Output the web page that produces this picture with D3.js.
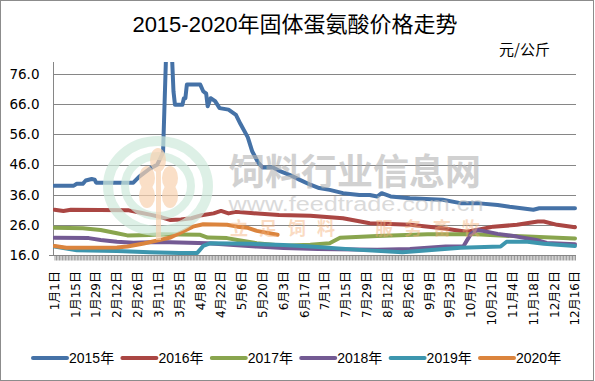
<!DOCTYPE html>
<html><head><meta charset="utf-8">
<script src="https://cdn.jsdelivr.net/npm/d3@7/dist/d3.min.js"></script>
<style>html,body{margin:0;padding:0;background:#fff;} svg{display:block;}</style>
</head><body><svg id="c" width="595" height="381"></svg>
<script>
const title = "2015-2020年固体蛋氨酸价格走势";
const unitLabel = "元/公斤";
const seriesNames = ["2015年","2016年","2017年","2018年","2019年","2020年"];
const seriesColors = ["#4572A7","#AA4643","#89A54E","#735A93","#3D96AE","#DB843D"];
const yTicks = [16,26,36,46,56,66,76];
const xFirst = "1-1", xLast = "12-16";
const xTickDates = ["1-1","1-15","1-29","2-12","2-26","3-11","3-25","4-8","4-22","5-6","5-20","6-3","6-17","7-1","7-15","7-29","8-12","8-26","9-9","9-23","10-7","10-21","11-4","11-18","12-2","12-16"];

const s2015 = [["1-1",39.0],["1-14",39.0],["1-16",39.6],["1-20",39.6],["1-22",40.7],["1-26",41.2],["1-28",41.0],["1-29",40.0],["2-23",40.0],["2-27",42.0],["3-5",44.6],["3-10",45.9],["3-14",50.0],["3-16",82],["3-20",82],["3-21",70.3],["3-22",65.8],["3-27",65.8],["3-28",68],["3-29",68],["3-30",72.5],["4-8",72.5],["4-10",70.3],["4-12",69.5],["4-13",65.3],["4-15",68],["4-18",67],["4-21",64.7],["4-27",64.2],["5-2",62.5],["5-5",59.5],["5-10",55],["5-13",50.3],["5-17",46.6],["5-20",45],["5-27",45],["6-1",43.7],["6-7",42.6],["6-14",40.9],["6-21",39.3],["6-27",38.2],["7-4",37.6],["7-13",36.5],["7-24",35.9],["7-31",35.9],["8-5",35.4],["8-8",36.5],["8-14",35.4],["8-27",34.8],["9-18",34.3],["9-30",33.2],["10-11",33.2],["10-25",32.6],["11-2",32.0],["11-18",31.0],["11-22",31.5],["12-16",31.5]];
const s2016 = [["1-1",31.0],["1-7",30.6],["1-12",31.0],["2-20",30.8],["2-28",30.0],["3-6",29.3],["3-13",28.5],["3-19",27.6],["3-26",27.8],["4-2",28.2],["4-9",29.2],["4-17",29.8],["4-22",30.6],["4-27",29.8],["5-2",30.3],["5-12",29.9],["5-31",29.3],["6-21",29.0],["7-13",28.2],["7-31",26.5],["8-27",26.0],["9-18",24.9],["10-4",23.7],["10-11",24.3],["10-22",25.4],["11-7",26.0],["11-21",27.1],["11-25",27.1],["12-4",26.0],["12-16",25.2]];
const s2017 = [["1-1",25.0],["1-20",24.9],["2-1",24.3],["2-12",23.2],["2-19",22.5],["3-5",22.6],["3-12",22.9],["4-8",22.7],["4-13",21.8],["4-26",21.6],["5-3",21.0],["5-16",19.9],["6-3",19.1],["6-21",19.4],["7-4",19.9],["7-11",21.7],["8-5",22.3],["9-8",22.9],["10-11",22.9],["10-20",22.6],["11-14",22.1],["12-16",21.5]];
const s2018 = [["1-1",21.7],["1-24",21.6],["2-1",21.0],["2-12",20.4],["2-23",20.1],["3-12",20.3],["4-13",19.9],["5-3",19.2],["5-16",18.8],["6-3",18.3],["6-26",18.0],["8-5",17.7],["8-27",18.0],["9-20",18.8],["10-2",18.9],["10-7",23.0],["10-11",24.3],["10-15",24.0],["10-25",23.0],["11-7",22.1],["11-20",21.0],["11-27",20.0],["12-16",19.6]];
const s2019 = [["1-1",18.8],["1-16",17.6],["2-12",17.3],["3-5",16.9],["3-25",16.7],["4-6",16.7],["4-10",19.0],["4-15",19.9],["5-12",19.7],["6-3",19.3],["6-21",18.8],["7-24",17.7],["8-22",16.9],["9-2",17.3],["9-30",18.4],["10-27",18.8],["10-31",20.4],["11-14",20.4],["11-25",19.7],["12-16",19.0]];
const s2020 = [["1-1",19.0],["1-9",18.4],["2-12",18.5],["2-19",18.8],["3-1",19.8],["3-12",21.0],["3-19",21.8],["3-27",23.7],["4-3",25.4],["4-10",26.2],["4-26",26.0],["5-3",25.4],["5-10",25.0],["5-16",24.0],["5-30",22.7]];
const seriesData = [s2015,s2016,s2017,s2018,s2019,s2020];

// 2020 is a leap year, matching the 14-day label sequence (2-26 -> 3-11)
const parseMD = s => { const [m,d] = s.split("-").map(Number); return new Date(2020, m-1, d); };
const fmtMD = s => { const [m,d] = s.split("-"); return `${m}月${d}日`; };

const svg = d3.select("#c");
const L = 53, R = 576, T = 62, B = 255;

const x = d3.scaleTime().domain([parseMD(xFirst), parseMD(xLast)]).range([54.5, 575]);
const y = d3.scaleLinear().domain([16, 80]).range([B, T]);

svg.append("rect").attr("x",0.5).attr("y",0.5).attr("width",593).attr("height",380)
  .attr("fill","#fff").attr("stroke","#8c8c8c").attr("stroke-width",1);

// title
svg.append("text").attr("x",295).attr("y",32).attr("text-anchor","middle")
  .attr("font-family","'Liberation Sans','Noto Sans CJK SC',sans-serif").attr("font-size",22)
  .attr("fill","#000").text(title);
svg.append("text").attr("x",499).attr("y",55)
  .attr("font-family","'Noto Sans CJK SC',sans-serif").attr("font-size",15)
  .attr("fill","#000").text(unitLabel);

// gridlines
svg.append("g").selectAll("line").data(yTicks.slice(1)).join("line")
  .attr("x1",L).attr("x2",R).attr("y1",d=>Math.round(y(d))+0.5).attr("y2",d=>Math.round(y(d))+0.5)
  .attr("stroke","#868686").attr("stroke-width",1);

// y axis
const yAxis = d3.axisLeft(y).tickValues(yTicks).tickFormat(d3.format(".1f")).tickSize(0).tickPadding(14);
const gy = svg.append("g").attr("transform",`translate(${L+0.5},0)`).call(yAxis);
gy.select(".domain").remove();
gy.selectAll("text").attr("font-family","'DejaVu Sans',sans-serif").attr("font-size",13.5).attr("fill","#000");
svg.append("line").attr("x1",L+0.5).attr("x2",L+0.5).attr("y1",T).attr("y2",B).attr("stroke","#868686");

// x axis: daily tick marks, labels every 14 days
const days = d3.timeDay.range(parseMD(xFirst), d3.timeDay.offset(parseMD(xLast),1));
const xAxis = d3.axisBottom(x).tickValues(days).tickSize(5).tickFormat("");
const gx = svg.append("g").attr("transform",`translate(0,${B+0.5})`).call(xAxis);
gx.select(".domain").remove();
gx.selectAll(".tick line").attr("stroke","#9a9a9a");
svg.append("line").attr("x1",49).attr("x2",R).attr("y1",B+0.5).attr("y2",B+0.5).attr("stroke","#868686");

svg.append("g").selectAll("text").data(xTickDates).join("text")
  .attr("transform", d => `translate(${x(parseMD(d))},271) rotate(-90)`)
  .attr("text-anchor","end").attr("dy","0.36em")
  .attr("font-family","'DejaVu Sans','Noto Sans CJK SC',sans-serif").attr("font-size",12)
  .attr("fill","#000").text(fmtMD);

// clip
svg.append("defs").append("clipPath").attr("id","plot")
  .append("rect").attr("x",L).attr("y",T).attr("width",R-L+2).attr("height",B-T+3);

const line = d3.line().x(d => x(parseMD(d[0]))).y(d => y(d[1]));
svg.append("g").attr("clip-path","url(#plot)").selectAll("path").data(seriesData).join("path")
  .attr("d", line).attr("fill","none")
  .attr("stroke",(d,i)=>seriesColors[i]).attr("stroke-width",4)
  .attr("stroke-linejoin","round").attr("stroke-linecap","round");

// watermark (overlay)
const wm = svg.append("g").attr("pointer-events","none");
wm.append("ellipse").attr("cx",158).attr("cy",186).attr("rx",50).attr("ry",45)
  .attr("fill","none").attr("stroke","#cfeadc").attr("stroke-width",10).attr("opacity",0.7);
wm.append("ellipse").attr("cx",158).attr("cy",186).attr("rx",33).attr("ry",30)
  .attr("fill","none").attr("stroke","#cfeadc").attr("stroke-width",8).attr("opacity",0.7);
const wheat = wm.append("g").attr("fill","#f8d2b0").attr("opacity",0.7);
wheat.append("rect").attr("x",156).attr("y",170).attr("width",5).attr("height",70);
[[147,178],[170,178],[147,196],[170,196],[158,160]].forEach(p=>{
  wheat.append("ellipse").attr("cx",p[0]).attr("cy",p[1]).attr("rx",8).attr("ry",12);
});
wm.append("text").attr("x",355).attr("y",185).attr("text-anchor","middle")
  .attr("font-family","'Noto Sans CJK SC',sans-serif").attr("font-weight","bold").attr("font-size",36)
  .attr("fill","#b4b4b4").attr("opacity",0.6).text("饲料行业信息网");
wm.append("text").attr("x",356).attr("y",211).attr("text-anchor","middle")
  .attr("font-family","'Liberation Sans',sans-serif").attr("font-size",20)
  .attr("textLength",255).attr("lengthAdjust","spacingAndGlyphs")
  .attr("fill","#bdbdbd").attr("opacity",0.55).text("www.feedtrade.com.cn");
wm.append("text").attr("x",355).attr("y",235).attr("text-anchor","middle")
  .attr("font-family","'Noto Sans CJK SC',sans-serif").attr("font-weight","bold").attr("font-size",18)
  .attr("textLength",250).attr("fill","#f4b07a").attr("opacity",0.45).text("立足饲料　服务畜牧");

// legend
const lg = svg.append("g").selectAll("g").data(seriesNames).join("g")
  .attr("transform",(d,i)=>`translate(${33 + i*89.4},358)`);
lg.append("line").attr("x1",0).attr("x2",34).attr("y1",0).attr("y2",0)
  .attr("stroke",(d,i)=>seriesColors[i]).attr("stroke-width",4).attr("stroke-linecap","round");
lg.append("text").attr("x",36).attr("y",5)
  .attr("font-family","'Liberation Sans','Noto Sans CJK SC',sans-serif").attr("font-size",14)
  .attr("fill","#000").text(d=>d);
</script>
</body></html>
